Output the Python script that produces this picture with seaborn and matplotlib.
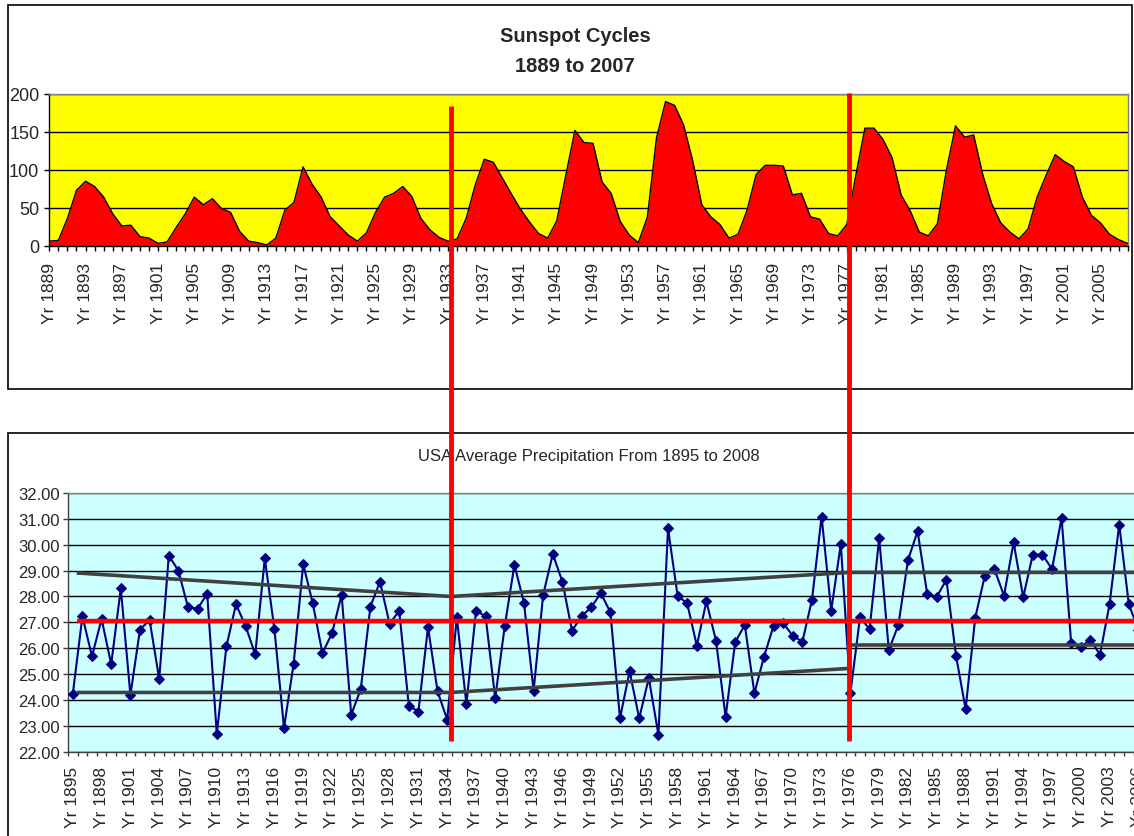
import numpy as np
import pandas as pd
import matplotlib
matplotlib.use("Agg")
import matplotlib.pyplot as plt
import seaborn as sns
from matplotlib import transforms
from matplotlib.lines import Line2D
from matplotlib.patches import Rectangle
from matplotlib.ticker import FormatStrFormatter

# yearly sunspot numbers, 1889-2008
sun_years = list(range(1889, 2009))
sunspots = [6, 7, 36, 73, 85, 78, 64, 42, 26, 27,
            12, 10, 3, 5, 24, 42, 64, 54, 62, 49,
            44, 19, 6, 4, 1, 10, 47, 57, 104, 81,
            64, 38, 26, 14, 6, 17, 44, 64, 69, 78,
            65, 36, 21, 11, 6, 9, 36, 80, 114, 110,
            89, 68, 48, 31, 16, 10, 33, 93, 152, 136,
            135, 84, 69, 32, 14, 4, 38, 142, 190, 185,
            159, 112, 54, 38, 28, 10, 15, 47, 94, 106,
            106, 105, 67, 69, 38, 35, 16, 13, 28, 93,
            155, 155, 140, 116, 67, 46, 18, 13, 29, 100,
            158, 143, 146, 94, 55, 30, 18, 9, 22, 64,
            93, 120, 111, 104, 64, 40, 30, 15, 8, 3]
sun_label_years = list(range(1889, 2009, 4))

# USA average precipitation (inches), 1895-2008
precip_years = list(range(1895, 2009))
precip = [24.23, 27.23, 25.69, 27.13, 25.38, 28.31, 24.19, 26.72, 27.09, 24.81,
          29.58, 29.00, 27.58, 27.53, 28.10, 22.68, 26.07, 27.70, 26.86, 25.76,
          29.47, 26.74, 22.92, 25.39, 29.25, 27.73, 25.81, 26.57, 28.07, 23.43,
          24.42, 27.61, 28.57, 26.94, 27.45, 23.78, 23.55, 26.81, 24.33, 23.24,
          27.19, 23.84, 27.45, 27.23, 24.07, 26.87, 29.22, 27.75, 24.36, 28.07,
          29.64, 28.57, 26.68, 27.24, 27.58, 28.13, 27.39, 23.29, 25.11, 23.29,
          24.85, 22.66, 30.63, 28.03, 27.73, 26.10, 27.81, 26.29, 23.35, 26.23,
          26.90, 24.26, 25.67, 26.87, 26.97, 26.48, 26.25, 27.88, 31.09, 27.45,
          30.03, 24.27, 27.19, 26.74, 30.26, 25.93, 26.90, 29.41, 30.52, 28.10,
          27.99, 28.65, 25.71, 23.65, 27.17, 28.80, 29.06, 28.03, 30.09, 27.97,
          29.62, 29.62, 29.06, 31.03, 26.19, 26.06, 26.33, 25.75, 27.71, 30.78,
          27.71, 26.70, 27.00, 28.00]
precip_label_years = list(range(1895, 2009, 3))

# hand drawn guide lines on the precipitation chart
mean_x = [1895.4, 2008.5]
mean_y = [27.06, 27.06]
upper_x = [1895.4, 1934.4, 1975.9, 2008.5]
upper_y = [28.91, 28.00, 28.93, 28.93]
lower_x = [1895.4, 1934.4, 1975.9]
lower_y = [24.29, 24.29, 25.22]
lower2_x = [1976.1, 2008.5]
lower2_y = [26.14, 26.14]
divider_years = [1934.4, 1975.9]

sns.set_style("white")
plt.rcParams['font.family'] = ['Liberation Sans', 'DejaVu Sans']

W, H = 1134, 837
fig = plt.figure(figsize=(W / 100, H / 100), dpi=100)

# chart frames
fig.add_artist(Rectangle((8 / W, 1 - 390 / H), 1124 / W, 384 / H, transform=fig.transFigure,
                         fill=False, ec='black', lw=1.2, zorder=1))
fig.add_artist(Rectangle((8 / W, 1 - 950 / H), 1300 / W, 516 / H, transform=fig.transFigure,
                         fill=False, ec='black', lw=1.2, zorder=1))

# ---- sunspots ----
ax1 = fig.add_axes([49.3 / W, 1 - 246.7 / H, 1078.4 / W, 151.7 / H])
ax1.set_facecolor('#FFFF00')
ax1.fill_between(sun_years, sunspots, 0, color='#FF0000', lw=0, zorder=2)
sns.lineplot(x=sun_years, y=sunspots, color='black', lw=1, ax=ax1, zorder=3)
ax1.set_xlim(1889, 2008)
ax1.set_ylim(0, 200)
ax1.set_yticks([0, 50, 100, 150, 200])
ax1.set_axisbelow(True)
ax1.yaxis.grid(True, color='black', lw=1)
ax1.set_xticks(sun_label_years)
ax1.set_xticklabels([f"Yr {y}" for y in sun_label_years], rotation=90, fontsize=12.5)
ax1.set_xticks(sun_years, minor=True)
ax1.tick_params(axis='x', which='both', direction='out', length=3.6, width=1, color='black', bottom=True, pad=8)
ax1.tick_params(axis='y', direction='out', length=3.6, width=1, color='black', left=True, labelsize=13, pad=3.6)
for side in ['top', 'right']:
    ax1.spines[side].set_color('#808080')
for side in ['left', 'bottom']:
    ax1.spines[side].set_color('black')
for sp in ax1.spines.values():
    sp.set_linewidth(1)
ax1.set_xlabel('')
ax1.set_ylabel('')

fig.text(575 / W, 1 - 36 / H, 'Sunspot Cycles', ha='center', va='center', fontsize=14.5, fontweight='bold')
fig.text(575 / W, 1 - 66 / H, '1889 to 2007', ha='center', va='center', fontsize=14.5, fontweight='bold')

# ---- precipitation ----
ax2 = fig.add_axes([68.0 / W, 1 - 752.7 / H, 1094.4 / W, 258.7 / H])
ax2.set_facecolor('#CCFFFF')
df = pd.DataFrame({'year': precip_years, 'inches': precip})
sns.lineplot(data=df, x='year', y='inches', color='#000080', lw=1.5, marker='D', markersize=5.5,
             markeredgecolor='#000080', ax=ax2, zorder=3)
ax2.plot(mean_x, mean_y, color='#FF0000', lw=3.2, zorder=4, solid_capstyle='butt')
ax2.plot(upper_x, upper_y, color='#404040', lw=2.6, zorder=4, solid_capstyle='butt')
ax2.plot(lower_x, lower_y, color='#404040', lw=2.6, zorder=4, solid_capstyle='butt')
ax2.plot(lower2_x, lower2_y, color='#404040', lw=2.6, zorder=4, solid_capstyle='butt')
ax2.set_xlim(1894.5, 2008.5)
ax2.set_ylim(22, 32)
ax2.set_yticks(np.arange(22, 33, 1))
ax2.yaxis.set_major_formatter(FormatStrFormatter('%.2f'))
ax2.set_axisbelow(True)
ax2.yaxis.grid(True, color='black', lw=1)
ax2.set_xticks(precip_label_years)
ax2.set_xticklabels([f"Yr {y}" for y in precip_label_years], rotation=90, fontsize=12.5)
ax2.set_xticks(np.arange(1894.5, 2009, 1), minor=True)
ax2.tick_params(axis='x', which='major', length=0, pad=10)
ax2.tick_params(axis='x', which='minor', direction='out', length=3.2, width=1, color='#404040', bottom=True)
ax2.tick_params(axis='y', direction='out', length=3.6, width=1, color='#404040', left=True, labelsize=12, pad=2.4)
ax2.spines['top'].set_color('#808080')
for side in ['left', 'bottom']:
    ax2.spines[side].set_color('#404040')
for sp in ax2.spines.values():
    sp.set_linewidth(1)
ax2.set_xlabel('')
ax2.set_ylabel('')

fig.text(589 / W, 1 - 457 / H, 'USA Average Precipitation From 1895 to 2008', ha='center', va='center',
         fontsize=12, family=['Liberation Sans Narrow', 'Liberation Sans'])

# red cycle dividers running through both charts
trans = transforms.blended_transform_factory(ax2.transData, fig.transFigure)
for yr, top_px in zip(divider_years, [107, 94]):
    fig.add_artist(Line2D([yr, yr], [1 - top_px / H, 1 - 741.7 / H], transform=trans,
                          color='#FF0000', lw=3.5, zorder=5, solid_capstyle='butt'))

fig.savefig('out.png', dpi=100)
